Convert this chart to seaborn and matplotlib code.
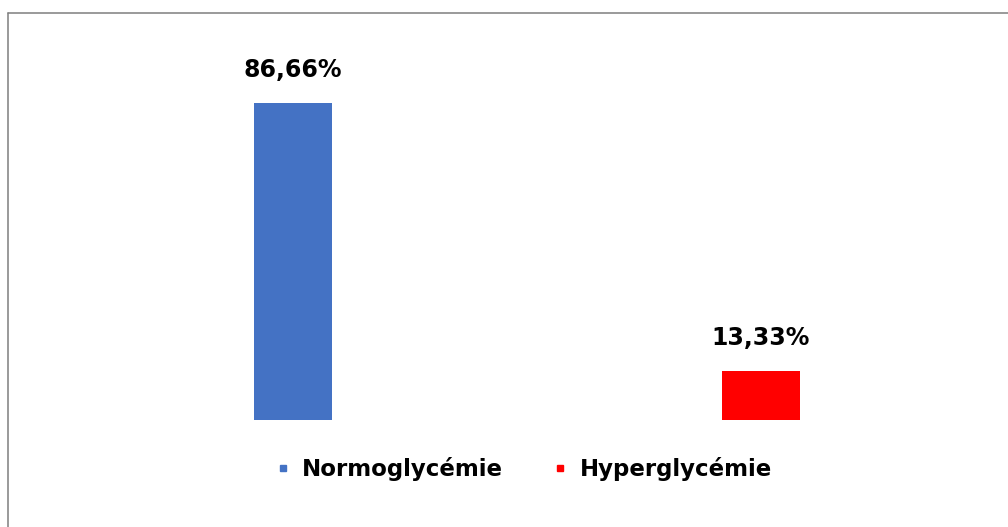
import matplotlib
matplotlib.use("Agg")
import matplotlib.pyplot as plt
from matplotlib.lines import Line2D
import seaborn as sns

# Data
categories = ["Normoglycémie", "Hyperglycémie"]
values = [86.66, 13.33]
value_labels = ["86,66%", "13,33%"]
colors = ["#4472C4", "#FF0000"]

sns.set_theme(style="white")
plt.rcParams["font.family"] = ["DejaVu Sans"]
plt.rcParams["text.color"] = "#000000"

W, H = 1008, 527
fig = plt.figure(figsize=(W / 100, H / 100), dpi=100)

# Plot area in pixel terms: baseline at y=420 from top
ax_left, ax_right = 60, 960
ax_bottom_px, ax_height_px = H - 420, 360
ax = fig.add_axes([ax_left / W, ax_bottom_px / H,
                   (ax_right - ax_left) / W, ax_height_px / H])

sns.barplot(x=categories, y=values, hue=categories, palette=colors,
            width=0.167, saturation=1, legend=False, linewidth=0, ax=ax)

# Category 0 centred near x=293 px, category 1 near x=761 px
unit = 468.0
ax.set_xlim((ax_left - 293) / unit, (ax_right - 293) / unit)
ax.set_ylim(0, 86.66 * ax_height_px / 317.0)
ax.axis("off")

for i, (v, lab) in enumerate(zip(values, value_labels)):
    ax.annotate(lab, xy=(i, v), xytext=(0, 15), textcoords="offset points",
                ha="center", va="bottom", fontsize=17, fontweight="bold",
                color="#000000")

# Legend with small square markers
handles = [Line2D([0], [0], marker="s", linestyle="none", markersize=5,
                  markerfacecolor=c, markeredgecolor=c) for c in colors]
leg = fig.legend(handles, categories, loc="center",
                 bbox_to_anchor=(524 / W, 1 - 469 / H), ncol=2, frameon=False,
                 prop={"size": 16.5, "weight": "bold"}, handlelength=0.6,
                 handletextpad=0.55, columnspacing=2.2)
for t in leg.get_texts():
    t.set_color("#000000")

# Outer frame (top and left edges visible)
frame_color = "#7f7f7f"
fig.add_artist(Line2D([7.5 / W, 7.5 / W], [0, 1 - 12.5 / H],
                      transform=fig.transFigure, color=frame_color, linewidth=1.1))
fig.add_artist(Line2D([7.5 / W, 1], [1 - 12.5 / H, 1 - 12.5 / H],
                      transform=fig.transFigure, color=frame_color, linewidth=1.1))

fig.savefig("out.png", dpi=100, facecolor="white")
